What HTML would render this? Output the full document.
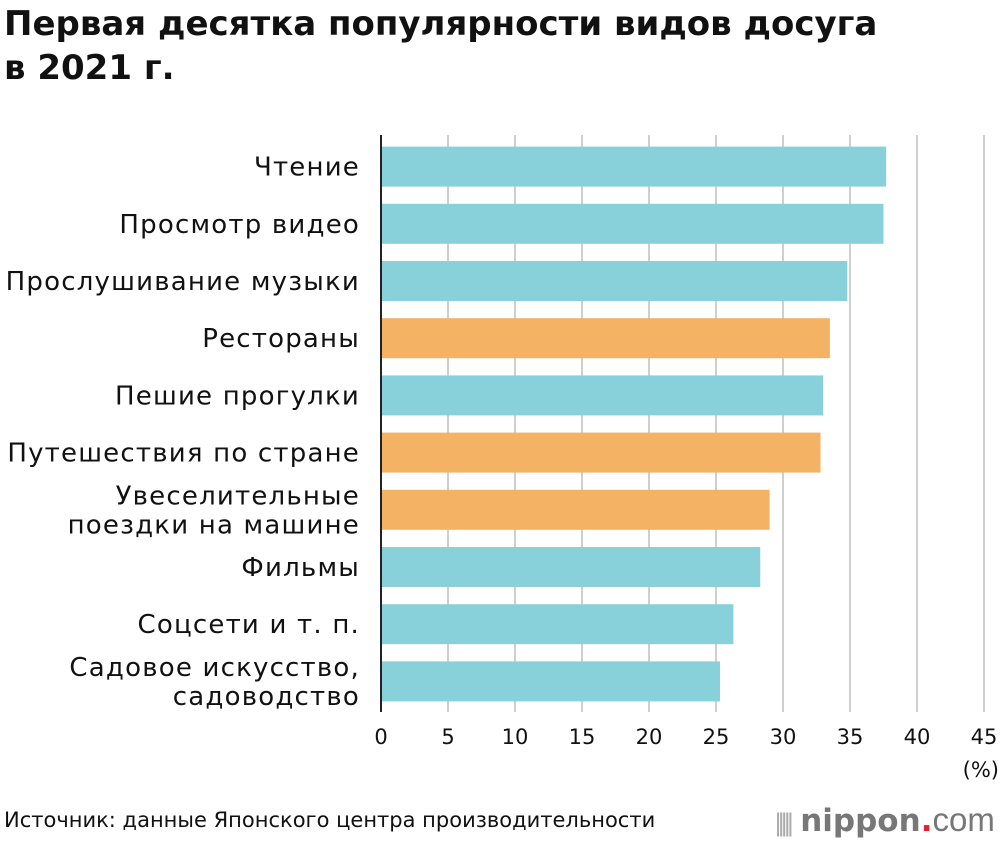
<!DOCTYPE html>
<html><head><meta charset="utf-8">
<style>
body{margin:0;background:#fff;font-family:"DejaVu Sans","Liberation Sans",sans-serif;}
#wrap{position:relative;width:1000px;height:842px;overflow:hidden;}
h1{position:absolute;left:4px;top:2px;margin:0;font-size:34px;line-height:44px;font-weight:bold;color:#111;letter-spacing:0px;white-space:nowrap;}
#src{position:absolute;left:4px;top:808px;font-size:21px;color:#111;letter-spacing:0px;white-space:nowrap;}
#logo{position:absolute;left:774px;top:801px;font-size:31px;font-weight:bold;color:#777;white-space:nowrap;}
</style></head><body>
<div id="wrap">
<h1>Первая десятка популярности видов досуга<br>в 2021 г.</h1>
<svg id="chart" width="1000" height="842" style="position:absolute;left:0;top:0"></svg>
<div id="src">Источник: данные Японского центра производительности</div>
<div id="logo"><span style="font-weight:normal;letter-spacing:-5px;font-size:24px;color:#aaa">|||||</span> nippon<span style="color:#e8202a">.</span><span style="font-weight:normal;font-family:'Liberation Sans',sans-serif;font-size:33px">com</span></div>
</div>
<script>
const categories=[["Чтение"],["Просмотр видео"],["Прослушивание музыки"],["Рестораны"],["Пешие прогулки"],["Путешествия по стране"],["Увеселительные","поездки на машине"],["Фильмы"],["Соцсети и т. п."],["Садовое искусство,","садоводство"]];
const values=[37.7,37.5,34.8,33.5,33.0,32.8,29.0,28.3,26.3,25.3];
const groups=["b","b","b","o","b","o","o","b","b","b"];
const ticks=[0,5,10,15,20,25,30,35,40,45];
const NS="http://www.w3.org/2000/svg";
const svg=document.getElementById('chart');
const x0=381,kx=13.4,yTop=138,step=57.2,bh=40,plotBottom=712;
const xs=v=>x0+v*kx;
const yc=i=>yTop+step*i+step/2;
function mk(t,a){const e=document.createElementNS(NS,t);for(const k in a)e.setAttribute(k,a[k]);svg.appendChild(e);return e;}
ticks.forEach(t=>{
 if(t>0){const g=mk('line',{x1:xs(t),x2:xs(t),y1:yTop-3,y2:plotBottom,stroke:'#cfcfcf','stroke-width':2});
 
 }
 const l=mk('text',{x:xs(t),y:744,'font-size':21,'text-anchor':'middle',fill:'#111'});
 l.textContent=t;
 
 
});
const pct=mk('text',{x:999,y:777,'font-size':21,'text-anchor':'end',fill:'#111'});pct.textContent='(%)';


values.forEach((v,i)=>{
 const r=mk('rect',{x:x0,y:yc(i)-bh/2,width:v*kx,height:bh,fill:groups[i]=='o'?'#f4b265':'#88d1da'});
 
 
 const lines=categories[i];
 lines.forEach((s,j)=>{
  const t=mk('text',{x:360,y:yc(i)+9+(j-(lines.length-1)/2)*29,'font-size':26,'text-anchor':'end',fill:'#111','letter-spacing':'1.2'});
  t.textContent=s;
  
  
 });
});
const ax=mk('line',{x1:x0,x2:x0,y1:yTop-3,y2:plotBottom,stroke:'#222','stroke-width':2});


</script>
</body></html>
